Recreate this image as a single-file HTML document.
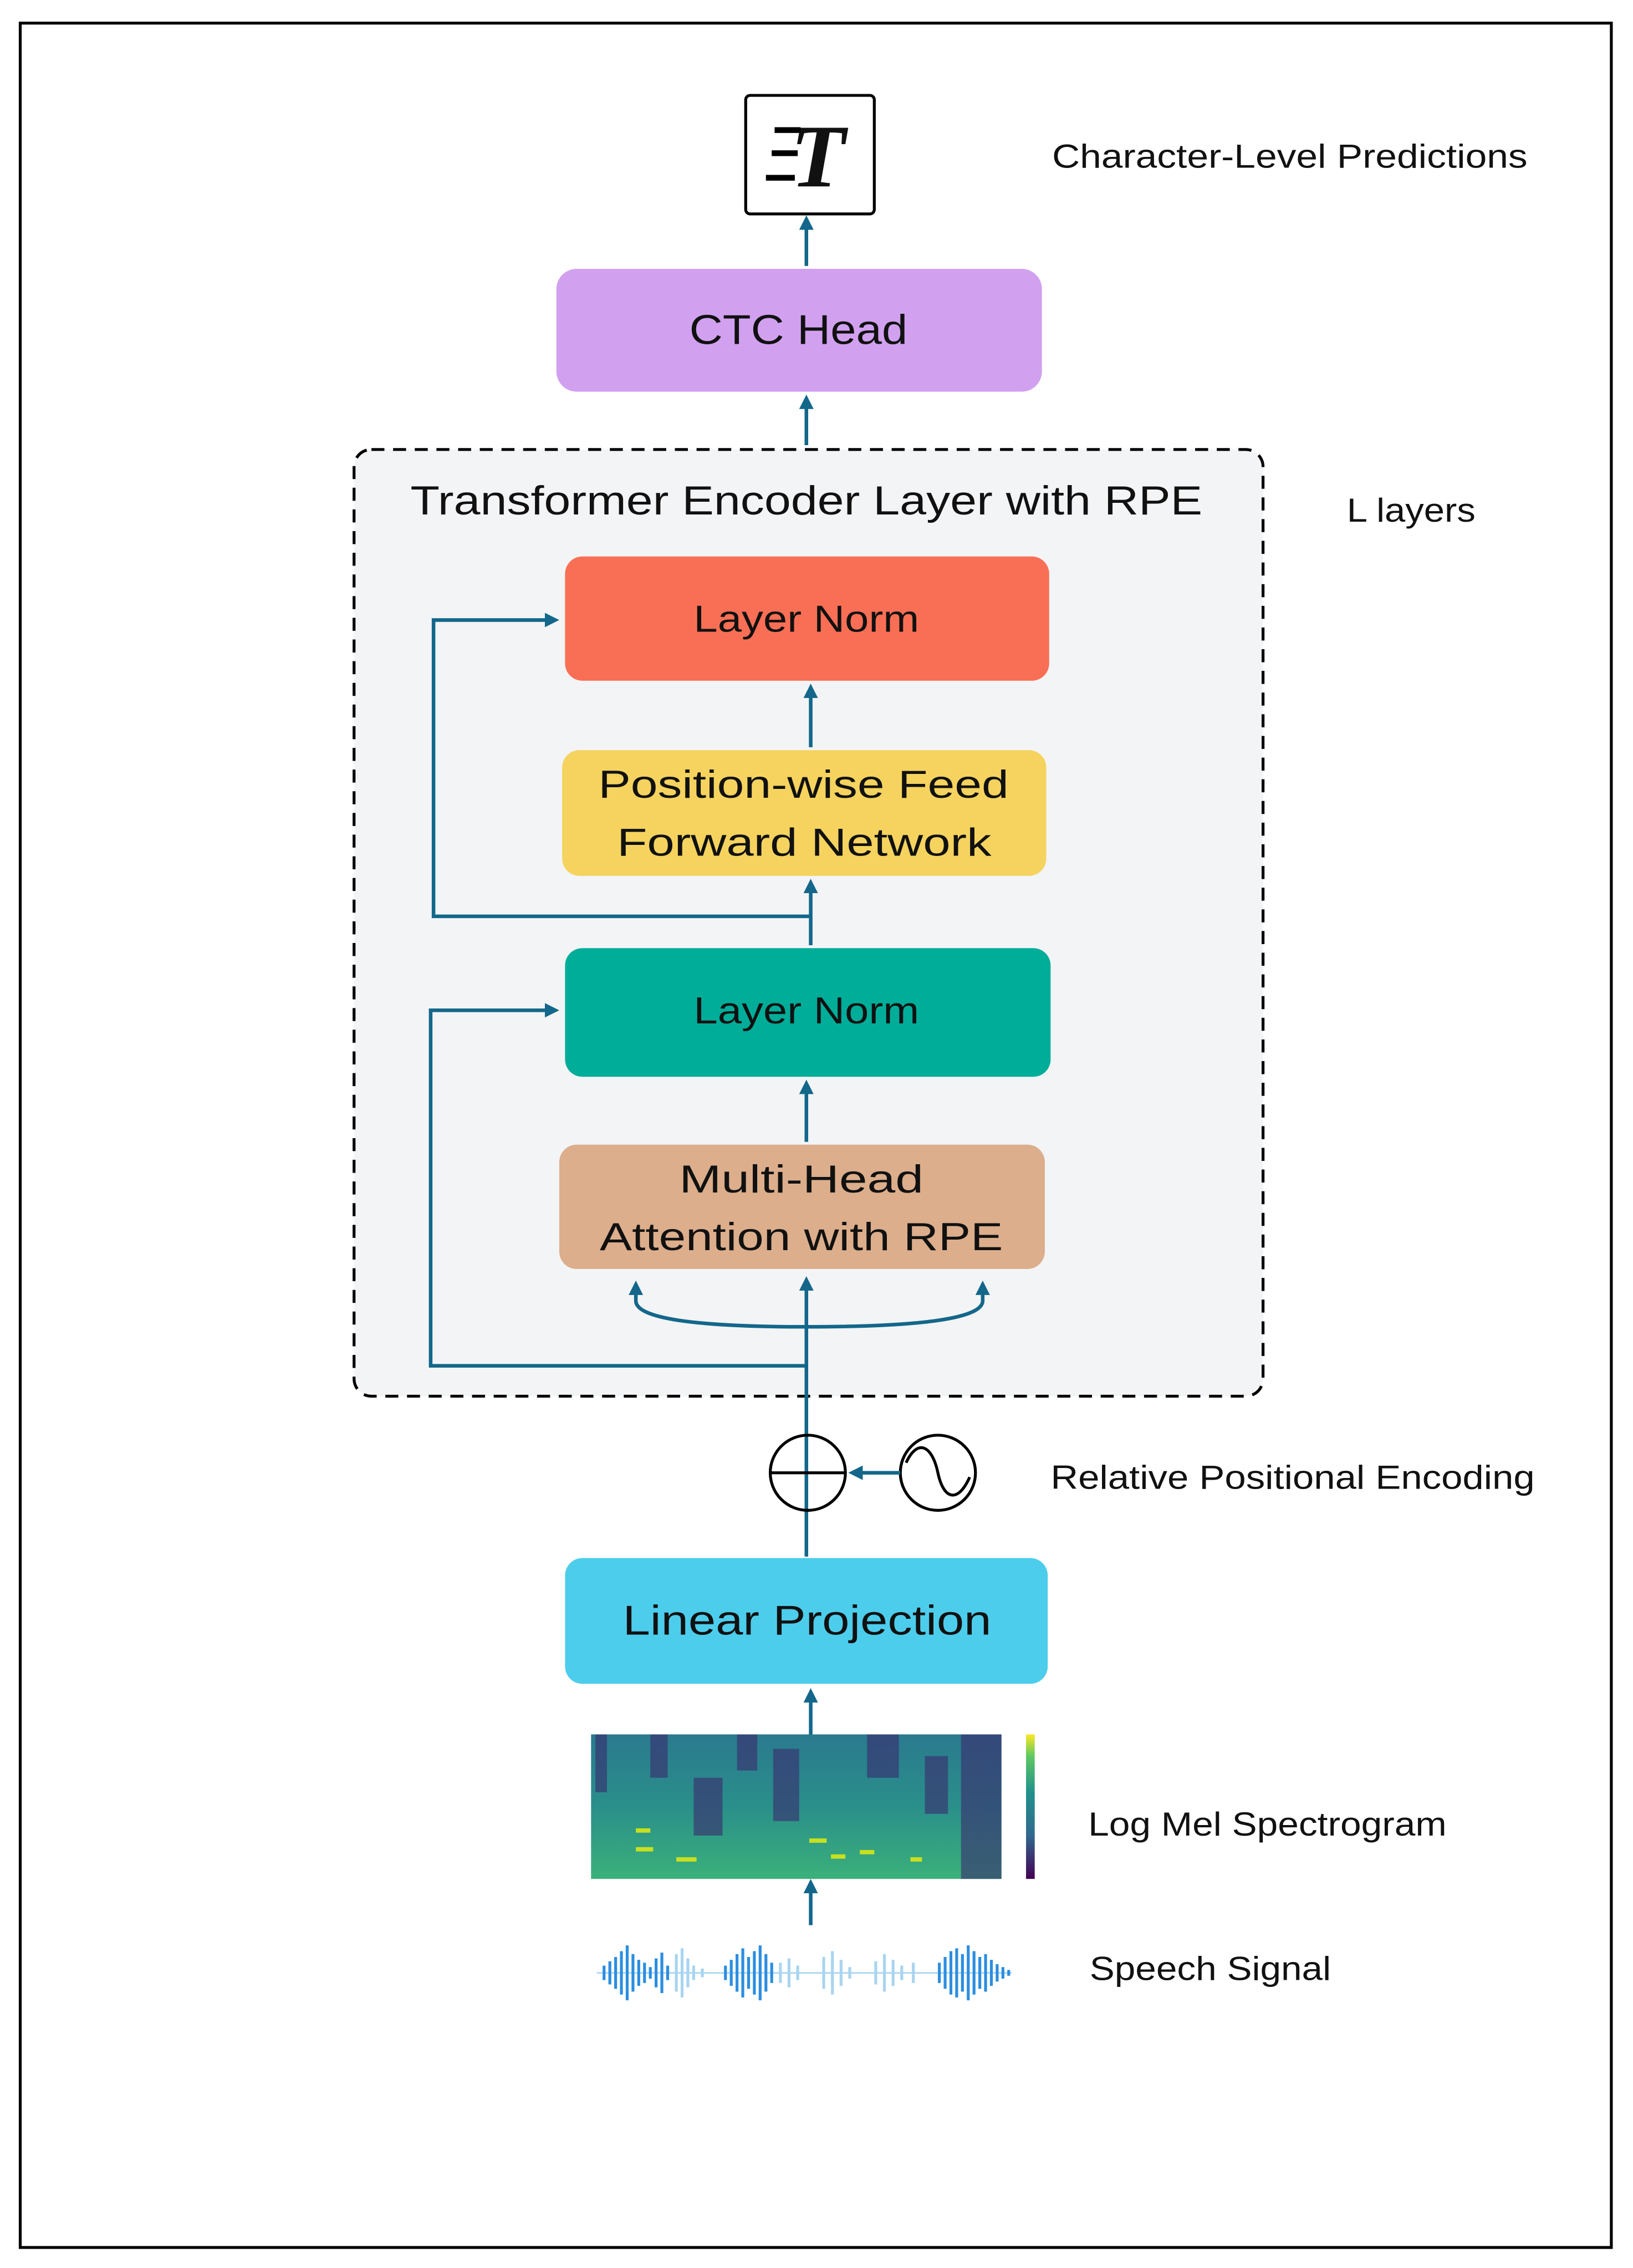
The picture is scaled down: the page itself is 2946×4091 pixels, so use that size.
<!DOCTYPE html>
<html><head><meta charset="utf-8"><style>html,body{margin:0;padding:0;background:#fff}svg{display:block}text{font-family:"Liberation Sans",sans-serif;fill:#111}</style></head><body>
<svg width="2946" height="4091" viewBox="0 0 1130 1569.2" preserveAspectRatio="none" xmlns="http://www.w3.org/2000/svg">
<defs>
<marker id="a" markerWidth="10" markerHeight="10" refX="7" refY="5" orient="auto" markerUnits="userSpaceOnUse"><path d="M0,0 L10,5 L0,10 Z" fill="#13678A"/></marker>
<linearGradient id="cb" x1="0" y1="1" x2="0" y2="0"><stop offset="0" stop-color="#440154"/><stop offset=".3" stop-color="#31688e"/><stop offset=".6" stop-color="#21918c"/><stop offset=".85" stop-color="#5ec962"/><stop offset="1" stop-color="#fde725"/></linearGradient>
<linearGradient id="sp" x1="0" y1="0" x2="0" y2="1"><stop offset="0" stop-color="#2a7a8e"/><stop offset=".5" stop-color="#2a8f8a"/><stop offset="1" stop-color="#3bb07a"/></linearGradient>
</defs>
<rect width="1130" height="1569.2" fill="#fff"/>
<rect x="14" y="16" width="1101" height="1539" fill="none" stroke="#000" stroke-width="2"/>
<rect x="516" y="66" width="89" height="82" rx="3" fill="#fff" stroke="#000" stroke-width="2"/>
<text x="566" y="129" font-style="italic" font-weight="bold" font-size="62" text-anchor="middle" style="font-family:'Liberation Serif',serif">T</text>
<rect x="536" y="88" width="18" height="4" fill="#000"/><rect x="534" y="104" width="18" height="4" fill="#000"/><rect x="530" y="121" width="20" height="4" fill="#000"/>
<text x="728" y="116" font-size="23" textLength="329" lengthAdjust="spacingAndGlyphs">Character-Level Predictions</text>
<line x1="558" y1="184" x2="558" y2="152" stroke="#13678A" stroke-width="2.5" marker-end="url(#a)"/>
<rect x="385" y="186" width="336" height="85" rx="14" fill="#D1A1F0"/>
<text x="477" y="238" font-size="29" textLength="151" lengthAdjust="spacingAndGlyphs">CTC Head</text>
<line x1="558" y1="308" x2="558" y2="276" stroke="#13678A" stroke-width="2.5" marker-end="url(#a)"/>
<rect x="245" y="311" width="629" height="655" rx="12" fill="#F3F4F6" stroke="#000" stroke-width="2" stroke-dasharray="9,6"/>
<text x="284" y="356" font-size="28" textLength="548" lengthAdjust="spacingAndGlyphs">Transformer Encoder Layer with RPE</text>
<text x="932" y="361" font-size="23" textLength="89" lengthAdjust="spacingAndGlyphs">L layers</text>
<rect x="391" y="385" width="335" height="86" rx="12" fill="#F96F55"/>
<text x="480" y="437" font-size="26" textLength="156" lengthAdjust="spacingAndGlyphs">Layer Norm</text>
<line x1="561" y1="517" x2="561" y2="476" stroke="#13678A" stroke-width="2.5" marker-end="url(#a)"/>
<rect x="389" y="519" width="335" height="87" rx="12" fill="#F5D35E"/>
<text x="414" y="552" font-size="27" textLength="284" lengthAdjust="spacingAndGlyphs">Position-wise Feed</text>
<text x="427" y="592" font-size="27" textLength="259" lengthAdjust="spacingAndGlyphs">Forward Network</text>
<line x1="561" y1="654" x2="561" y2="611" stroke="#13678A" stroke-width="2.5" marker-end="url(#a)"/>
<polyline points="561,634 300,634 300,429 384,429" fill="none" stroke="#13678A" stroke-width="2.5" marker-end="url(#a)"/>
<rect x="391" y="656" width="336" height="89" rx="12" fill="#00AD99"/>
<text x="480" y="708" font-size="26" textLength="156" lengthAdjust="spacingAndGlyphs">Layer Norm</text>
<line x1="558" y1="790" x2="558" y2="750" stroke="#13678A" stroke-width="2.5" marker-end="url(#a)"/>
<rect x="387" y="792" width="336" height="86" rx="12" fill="#DCAE8C"/>
<text x="470" y="825" font-size="27" textLength="169" lengthAdjust="spacingAndGlyphs">Multi-Head</text>
<text x="415" y="865" font-size="27" textLength="279" lengthAdjust="spacingAndGlyphs">Attention with RPE</text>
<line x1="558" y1="1077" x2="558" y2="886" stroke="#13678A" stroke-width="2.5" marker-end="url(#a)"/>
<path d="M558,918 Q440,918 440,900 L440,889" fill="none" stroke="#13678A" stroke-width="2.5" marker-end="url(#a)"/>
<path d="M558,918 Q680,918 680,900 L680,889" fill="none" stroke="#13678A" stroke-width="2.5" marker-end="url(#a)"/>
<polyline points="558,945 298,945 298,699 384,699" fill="none" stroke="#13678A" stroke-width="2.5" marker-end="url(#a)"/>
<circle cx="559" cy="1019" r="26" fill="none" stroke="#000" stroke-width="2"/>
<line x1="533" y1="1019" x2="585" y2="1019" stroke="#000" stroke-width="2"/>
<circle cx="649" cy="1019" r="26" fill="none" stroke="#000" stroke-width="2"/>
<path d="M627,1012 C635,995 645,1000 649,1019 C653,1038 663,1040 671,1022" fill="none" stroke="#000" stroke-width="2"/>
<line x1="623" y1="1019" x2="590" y2="1019" stroke="#13678A" stroke-width="2.5" marker-end="url(#a)"/>
<text x="727" y="1030" font-size="23" textLength="335" lengthAdjust="spacingAndGlyphs">Relative Positional Encoding</text>
<rect x="391" y="1078" width="334" height="87" rx="12" fill="#4DCDEC"/>
<text x="431" y="1131" font-size="29" textLength="255" lengthAdjust="spacingAndGlyphs">Linear Projection</text>
<line x1="561" y1="1200" x2="561" y2="1171" stroke="#13678A" stroke-width="2.5" marker-end="url(#a)"/>
<rect x="409" y="1200" width="284" height="100" fill="url(#sp)"/>
<g fill="#3b2a6e" opacity=".6">
<rect x="412" y="1200" width="8" height="40"/><rect x="450" y="1200" width="12" height="30"/><rect x="480" y="1230" width="20" height="40"/><rect x="510" y="1200" width="14" height="25"/><rect x="535" y="1210" width="18" height="50"/><rect x="600" y="1200" width="22" height="30"/><rect x="640" y="1215" width="16" height="40"/><rect x="665" y="1200" width="28" height="100"/>
</g>
<g fill="#c8e020">
<rect x="440" y="1265" width="10" height="3"/><rect x="440" y="1278" width="12" height="3"/><rect x="468" y="1285" width="14" height="3"/><rect x="560" y="1272" width="12" height="3"/><rect x="575" y="1283" width="10" height="3"/><rect x="595" y="1280" width="10" height="3"/><rect x="630" y="1285" width="8" height="3"/>
</g>
<rect x="710" y="1200" width="6" height="100" fill="url(#cb)"/>
<line x1="561" y1="1332" x2="561" y2="1303" stroke="#13678A" stroke-width="2.5" marker-end="url(#a)"/>
<text x="753" y="1270" font-size="23" textLength="248" lengthAdjust="spacingAndGlyphs">Log Mel Spectrogram</text>
<g stroke-width="2">
<line x1="413" y1="1365" x2="700" y2="1365" stroke="#a8d4f0" stroke-width="1"/>
<path d="M418,1360v10M422,1357v16M426,1354v22M430,1350v30M434,1346v38M438,1352v26M442,1356v18M446,1358v14M450,1361v8M454,1355v20M458,1351v28M462,1360v10" stroke="#2b8ee0"/>
<path d="M468,1352v26M472,1348v34M476,1355v20M480,1360v10M486,1362v6" stroke="#a8d4f0"/>
<path d="M502,1360v10M506,1356v18M510,1352v26M514,1348v34M518,1354v22M522,1350v30M526,1346v38M530,1352v26M534,1358v14" stroke="#2b8ee0"/>
<path d="M540,1358v14M546,1355v20M552,1360v10M570,1354v22M576,1350v30M582,1356v18M588,1361v8M606,1357v16M612,1352v26M618,1356v18M624,1360v10M632,1358v14" stroke="#a8d4f0"/>
<path d="M650,1358v14M654,1354v22M658,1350v30M662,1348v34M666,1352v26M670,1346v38M674,1350v30M678,1354v22M682,1352v26M686,1356v18M690,1359v12M694,1361v8M698,1363v4" stroke="#2b8ee0"/>
</g>
<text x="754" y="1370" font-size="23" textLength="167" lengthAdjust="spacingAndGlyphs">Speech Signal</text>
</svg>
</body></html>
